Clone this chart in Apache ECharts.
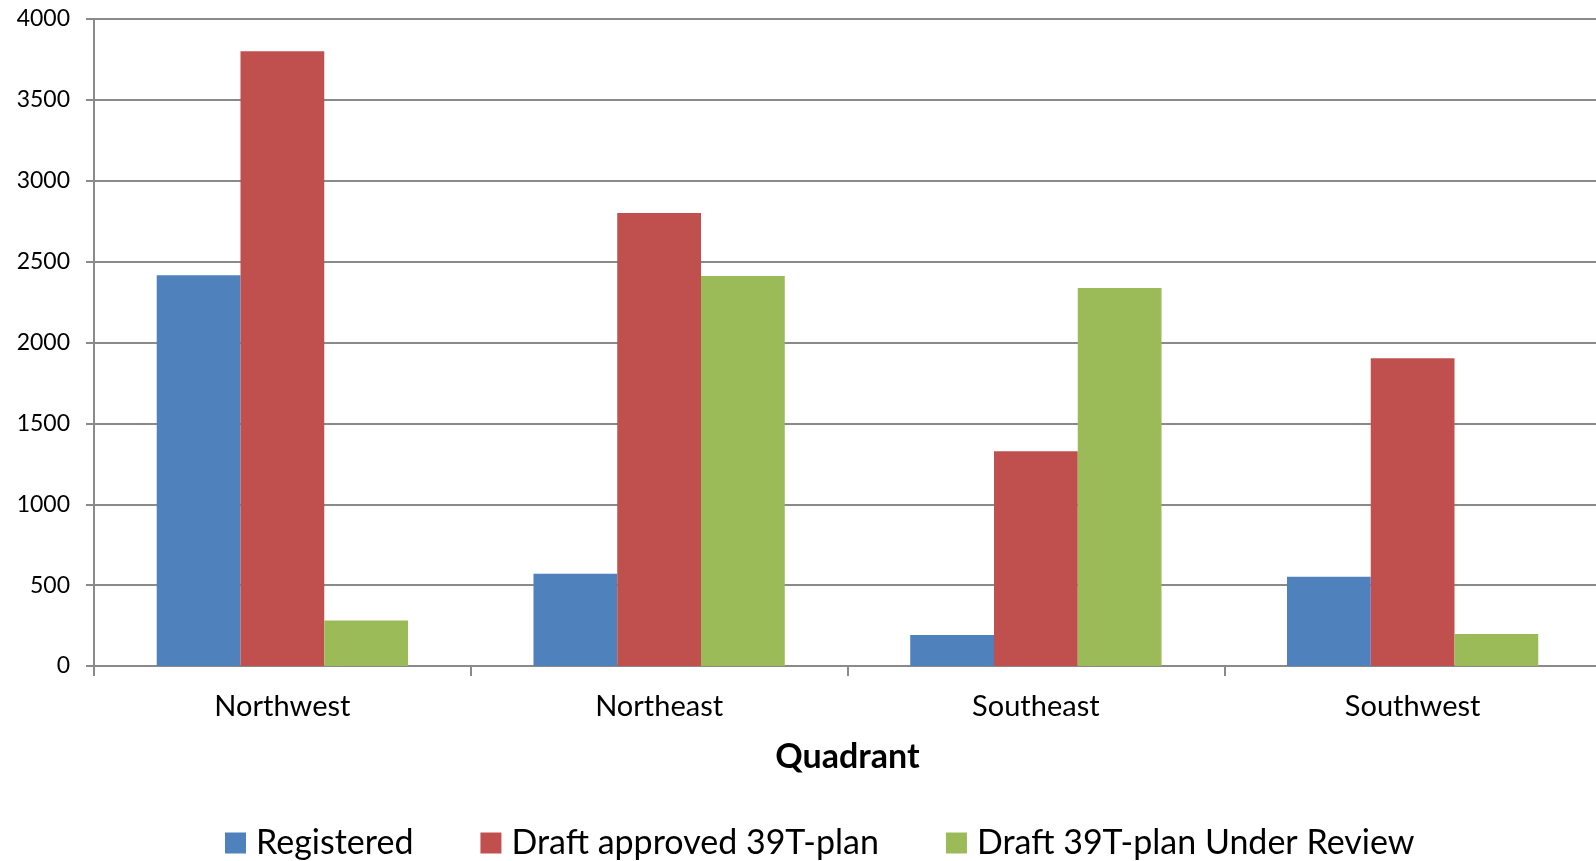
<!DOCTYPE html>
<html>
<head>
<meta charset="utf-8">
<script src="https://cdn.jsdelivr.net/npm/echarts@6/dist/echarts.min.js"></script>
<style>
  html, body { margin: 0; padding: 0; background: #fff; }
  #chart { width: 1596px; height: 861px; }
</style>
</head>
<body>
<div id="chart"></div>
<script>
// Quadrants along the category axis
const quadrants = ['Northwest', 'Northeast', 'Southeast', 'Southwest'];

// Series values per quadrant
const registered = [2415, 570, 192, 552];
const draftApproved = [3800, 2800, 1327, 1902];
const draftUnderReview = [282, 2411, 2337, 198];

// Series names (legend entries)
const seriesNames = ['Registered', 'Draft approved 39T-plan', 'Draft 39T-plan Under Review'];

// Value axis ticks
const yMin = 0, yMax = 4000, yStep = 500;

const FONT = 'Lato, "Open Sans", sans-serif';
const GRID_GRAY = '#8a8a8a';
const colors = ['#4F81BD', '#C0504D', '#9BBB59'];

const chart = echarts.init(document.getElementById('chart'), null, { renderer: 'canvas' });

const seriesData = [registered, draftApproved, draftUnderReview];

chart.setOption({
  animation: false,
  backgroundColor: '#ffffff',
  color: colors,
  textStyle: { fontFamily: FONT, color: '#000' },
  // plot area runs slightly past the right edge of the canvas
  grid: { left: 94, top: 19, width: 1507, height: 647, containLabel: false, outerBoundsMode: 'none' },
  legend: {
    left: 220,
    top: 821,
    itemWidth: 21,
    itemHeight: 21,
    itemGap: 67,
    icon: 'rect',
    textStyle: { fontFamily: FONT, fontSize: 34, color: '#000', padding: [0, 0, 0, 5] },
    data: seriesNames
  },
  xAxis: {
    type: 'category',
    data: quadrants,
    name: 'Quadrant',
    nameLocation: 'middle',
    nameGap: 74,
    nameTextStyle: { fontFamily: FONT, fontSize: 34, fontWeight: 'bold', color: '#000' },
    axisLine: { lineStyle: { color: GRID_GRAY, width: 2 } },
    axisTick: { show: true, alignWithLabel: false, length: 10, lineStyle: { color: GRID_GRAY, width: 2 } },
    axisLabel: { fontFamily: FONT, fontSize: 29, color: '#000', margin: 26 },
    splitLine: { show: false }
  },
  yAxis: {
    type: 'value',
    min: yMin,
    max: yMax,
    interval: yStep,
    axisLine: { show: true, lineStyle: { color: GRID_GRAY, width: 2 } },
    axisTick: { show: true, length: 8, lineStyle: { color: GRID_GRAY, width: 2 } },
    axisLabel: { fontFamily: FONT, fontSize: 23, color: '#000', margin: 24, formatter: v => String(v) },
    splitLine: { show: true, lineStyle: { color: GRID_GRAY, width: 2 } }
  },
  series: seriesNames.map((name, i) => ({
    name: name,
    type: 'bar',
    data: seriesData[i],
    barGap: '0%',
    barCategoryGap: '33.3%',
    itemStyle: { color: colors[i] }
  }))
});
</script>
</body>
</html>
